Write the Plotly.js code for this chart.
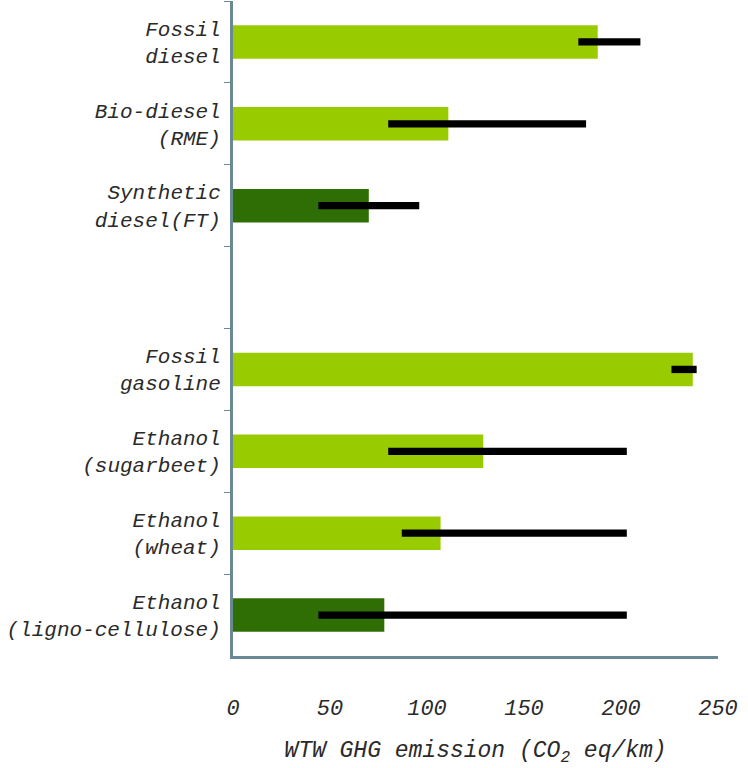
<!DOCTYPE html>
<html>
<head>
<meta charset="utf-8">
<script src="https://cdn.plot.ly/plotly-3.0.1.min.js"></script>
<style>html,body{margin:0;padding:0;background:#fff;}</style>
</head>
<body>
<div id="chart" style="width:748px;height:768px;"></div>
<script>
// Categories (top to bottom); " " is an empty spacer slot
const categories = ["Fossil<br>diesel", "Bio-diesel<br>(RME)", "Synthetic<br>diesel(FT)", " ",
  "Fossil<br>gasoline", "Ethanol<br>(sugarbeet)", "Ethanol<br>(wheat)", "Ethanol<br>(ligno-cellulose)"];
// Central WTW GHG emission values (g CO2 eq/km)
const emission = [188, 111, 70, null, 237, 129, 107, 78];
// Range (low / high) of emission estimates
const rangeLow  = [178, 80, 44, null, 226, 80, 87, 44];
const rangeHigh = [210, 182, 96, null, 239, 203, 203, 203];
// Fuel type: first generation vs second generation
const generation = ["first", "first", "second", null, "first", "first", "first", "second"];

const colorMap = {first: "#99cc00", second: "#2f6e04"};
const barColors = generation.map(g => g ? colorMap[g] : "rgba(0,0,0,0)");
const rangeSpan = rangeHigh.map((h, i) => (h === null ? null : h - rangeLow[i]));

const font = "Liberation Mono, DejaVu Sans Mono, monospace";

const traces = [
  {
    type: "bar", orientation: "h",
    y: categories, x: emission,
    width: 0.41,
    marker: {color: barColors, line: {width: 0}},
    hoverinfo: "x+y"
  },
  {
    type: "bar", orientation: "h",
    y: categories, x: rangeSpan, base: rangeLow,
    width: 0.09,
    marker: {color: "#000000", line: {width: 0}},
    hoverinfo: "skip"
  }
];

const layout = {
  width: 748, height: 768,
  margin: {l: 233, r: 30, t: 1, b: 112},
  paper_bgcolor: "#ffffff", plot_bgcolor: "#ffffff",
  barmode: "overlay",
  showlegend: false,
  xaxis: {
    range: [0, 250],
    tickvals: [0, 50, 100, 150, 200, 250],
    ticktext: ["0", "50", "100", "150", "200", "250"],
    showgrid: false, zeroline: false,
    showline: true, linecolor: "#6b8995", linewidth: 3,
    ticks: "", ticklabelstandoff: 30,
    tickfont: {family: font, size: 22, color: "#2a2a2a", style: "italic"},
    title: {
      text: "WTW GHG emission (CO<sub>2</sub> eq/km)",
      font: {family: font, size: 23, color: "#2a2a2a", style: "italic"},
      standoff: 20
    }
  },
  yaxis: {
    type: "category",
    categoryorder: "array", categoryarray: categories,
    range: [7.5, -0.5],
    showgrid: false, zeroline: false,
    showline: true, linecolor: "#6b8995", linewidth: 3,
    ticks: "outside", tickson: "boundaries", ticklen: 6, tickcolor: "#6b8995", tickwidth: 1,
    ticklabelstandoff: 5,
    tickfont: {family: font, size: 21, color: "#2a2a2a", style: "italic"}
  }
};

Plotly.newPlot("chart", traces, layout, {displayModeBar: false, staticPlot: true});
</script>
</body>
</html>
